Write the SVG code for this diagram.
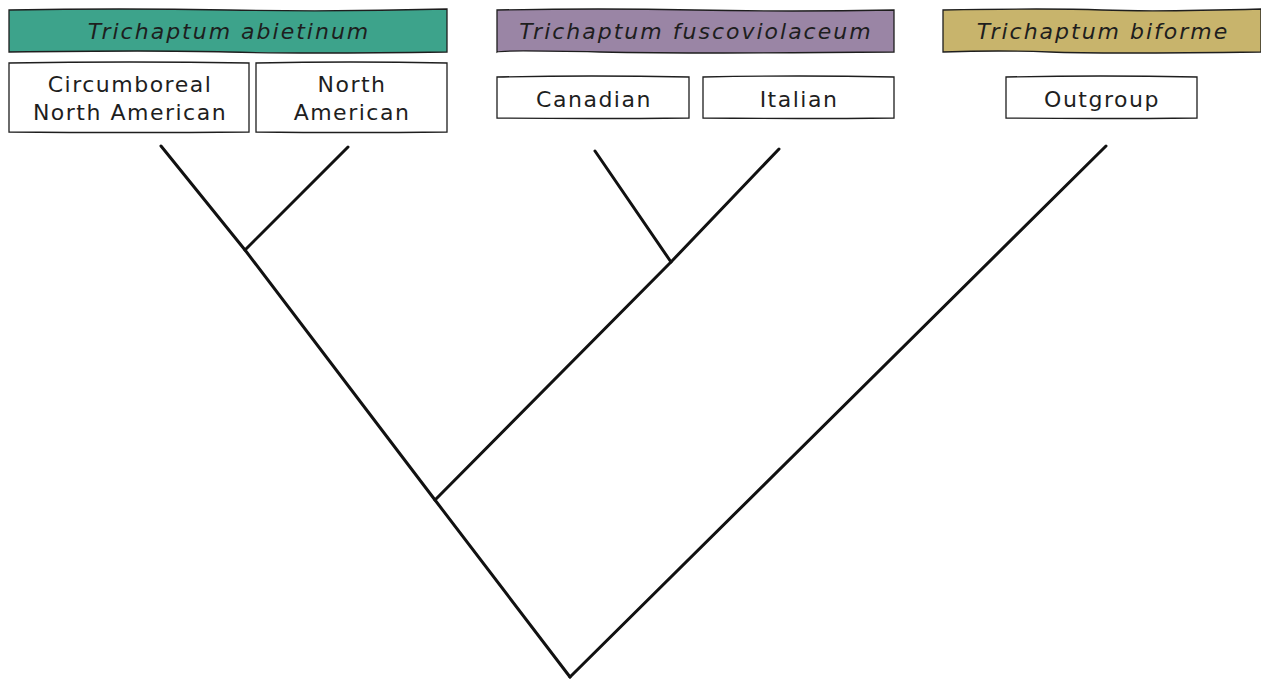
<svg xmlns="http://www.w3.org/2000/svg" width="1261" height="679" viewBox="0 0 1261 679">
<style>
.box{fill:#ffffff;stroke:#1e1e1e;stroke-width:1.3}
.ban{stroke:#1e1e1e;stroke-width:1.3}
.t{font-family:"DejaVu Sans","Open Sans",sans-serif;font-size:22px;fill:#1e1e1e;text-anchor:middle;dominant-baseline:central;letter-spacing:1.5px}
.it{font-style:italic;letter-spacing:2px}
.br{fill:none;stroke:#111;stroke-width:3;stroke-linecap:round;stroke-linejoin:round}
</style>
<rect width="1261" height="679" fill="#ffffff"/>
<g id="banner-abietinum">
<path class="ban" fill="#3da38b" d="M9 10 Q120 8 228 10 T447 9 L447 52 Q300 54 228 52 T9 52 Z"/>
<text class="t it" x="229" y="31">Trichaptum abietinum</text>
</g>
<g id="node-circumboreal">
<path class="box" d="M9 63 Q130 61 249 63 L249 132 Q130 133 9 132 Z"/>
<text class="t" x="130" y="84">Circumboreal</text>
<text class="t" x="130" y="112">North American</text>
</g>
<g id="node-north-american">
<path class="box" d="M256 63 Q350 61 447 63 L447 132 Q350 133 256 132 Z"/>
<text class="t" x="352" y="84">North</text>
<text class="t" x="352" y="112">American</text>
</g>
<g id="banner-fuscoviolaceum">
<path class="ban" fill="#9a85a5" d="M497 10 Q600 8 695 10 T894 10 L894 52 Q700 54 600 52 T497 52 Z"/>
<text class="t it" x="696" y="31">Trichaptum fuscoviolaceum</text>
</g>
<g id="node-canadian">
<path class="box" d="M497 77 Q590 75 689 77 L689 118 Q590 119 497 118 Z"/>
<text class="t" x="594" y="99">Canadian</text>
</g>
<g id="node-italian">
<path class="box" d="M703 77 Q800 75 894 77 L894 118 Q800 119 703 118 Z"/>
<text class="t" x="799" y="99">Italian</text>
</g>
<g id="banner-biforme">
<path class="ban" fill="#c8b46c" d="M943 10 Q1050 8 1102 10 T1261 9 L1261 52 Q1100 54 1050 52 T943 52 Z"/>
<text class="t it" x="1103" y="31">Trichaptum biforme</text>
</g>
<g id="node-outgroup">
<path class="box" d="M1006 77 Q1100 75 1197 77 L1197 118 Q1100 119 1006 118 Z"/>
<text class="t" x="1102" y="99">Outgroup</text>
</g>
<g id="connectors">
<path class="br" d="M570 677 L435 500 L245 250 L161 146"/>
<path class="br" d="M245 250 L348 147"/>
<path class="br" d="M435 500 L671 262 L779 149"/>
<path class="br" d="M671 262 L595 151"/>
<path class="br" d="M570 677 L1106 146"/>
</g>
</svg>
